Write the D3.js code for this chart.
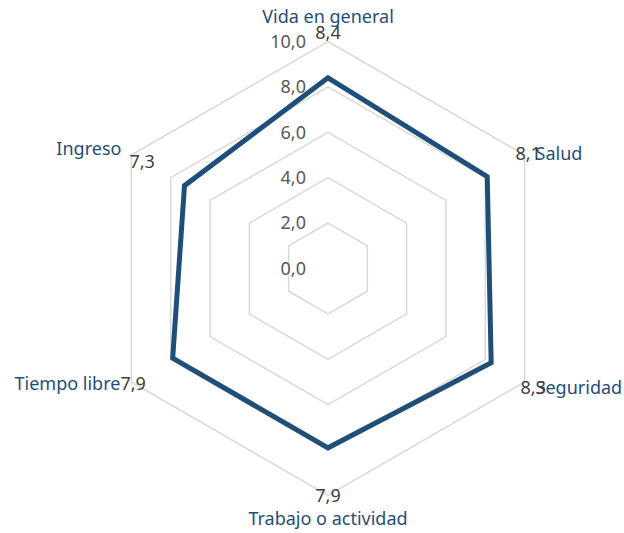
<!DOCTYPE html>
<html>
<head>
  <meta charset="utf-8">
  <script src="https://cdn.jsdelivr.net/npm/d3@7/dist/d3.min.js"></script>
  <style>
    body { margin: 0; background: #fff; }
    svg text { font-family: "Noto Sans", sans-serif; font-size: 18px; }
  </style>
</head>
<body>
  <svg width="624" height="533"></svg>

  <script type="text/javascript">

  // data
  let categories = ["Vida en general", "Salud", "Seguridad", "Trabajo o actividad", "Tiempo libre", "Ingreso"]
  let values = [8.4, 8.1, 8.3, 7.9, 7.9, 7.3]
  let ticks = [0, 2, 4, 6, 8, 10]

  // layout
  let cx = 328, cy = 268.5
  let r = d3.scaleLinear().domain([0, 10]).range([0, 227])
  let angle = function(i){ return i * 2 * Math.PI / categories.length }
  let px = function(i, v){ return cx + r(v) * Math.sin(angle(i)) }
  let py = function(i, v){ return cy - r(v) * Math.cos(angle(i)) }
  let fmt = function(v){ return d3.format(".1f")(v).replace(".", ",") }

  // label placement around the outer vertex
  let catPos = [
    {anchor: "middle", dx: 0, dy: -19},
    {anchor: "start", dx: 11, dy: 5},
    {anchor: "start", dx: 11, dy: 12},
    {anchor: "middle", dx: 0, dy: 29},
    {anchor: "end", dx: -11, dy: 8},
    {anchor: "end", dx: -10, dy: 0}
  ]
  let valPos = [
    {anchor: "middle", dx: 0, dy: -3},
    {anchor: "start", dx: -9, dy: 5},
    {anchor: "start", dx: -4, dy: 12},
    {anchor: "middle", dx: 0, dy: 6},
    {anchor: "start", dx: -11, dy: 8},
    {anchor: "start", dx: -2, dy: 13}
  ]

  let svg = d3.select("svg")

  // grid rings
  svg.selectAll(".ring")
     .data(ticks.filter(function(t){ return t > 0 }))
     .enter()
     .append("polygon")
     .attr("class", "ring")
     .attr("points", function(t){
       return categories.map(function(c, i){ return px(i, t) + "," + py(i, t) }).join(" ")
     })
     .attr("fill", "none")
     .attr("stroke", "#d9d9d9")
     .attr("stroke-width", 1.5)

  // tick labels
  svg.selectAll(".tick")
     .data(ticks)
     .enter()
     .append("text")
     .attr("x", cx - 22)
     .attr("y", function(t){ return cy - r(t) })
     .attr("dy", "0.35em")
     .attr("text-anchor", "end")
     .attr("fill", "#595959")
     .text(function(t){ return fmt(t) })

  // series
  let line = d3.line()
     .x(function(d, i){ return px(i, d) })
     .y(function(d, i){ return py(i, d) })
     .curve(d3.curveLinearClosed)

  svg.append("path")
     .datum(values)
     .attr("d", line)
     .attr("fill", "none")
     .attr("stroke", "#1f4e79")
     .attr("stroke-width", 5)
     .attr("stroke-linejoin", "miter")

  // category labels
  svg.selectAll(".cat")
     .data(categories)
     .enter()
     .append("text")
     .attr("x", function(d, i){ return px(i, 10) + catPos[i].dx })
     .attr("y", function(d, i){ return py(i, 10) + catPos[i].dy })
     .attr("text-anchor", function(d, i){ return catPos[i].anchor })
     .attr("fill", "#1f4e79")
     .text(function(d){ return d })

  // value labels
  svg.selectAll(".val")
     .data(values)
     .enter()
     .append("text")
     .attr("x", function(d, i){ return px(i, 10) + valPos[i].dx })
     .attr("y", function(d, i){ return py(i, 10) + valPos[i].dy })
     .attr("text-anchor", function(d, i){ return valPos[i].anchor })
     .attr("fill", "#404040")
     .text(function(d){ return fmt(d) })

  </script>
</body>
</html>
